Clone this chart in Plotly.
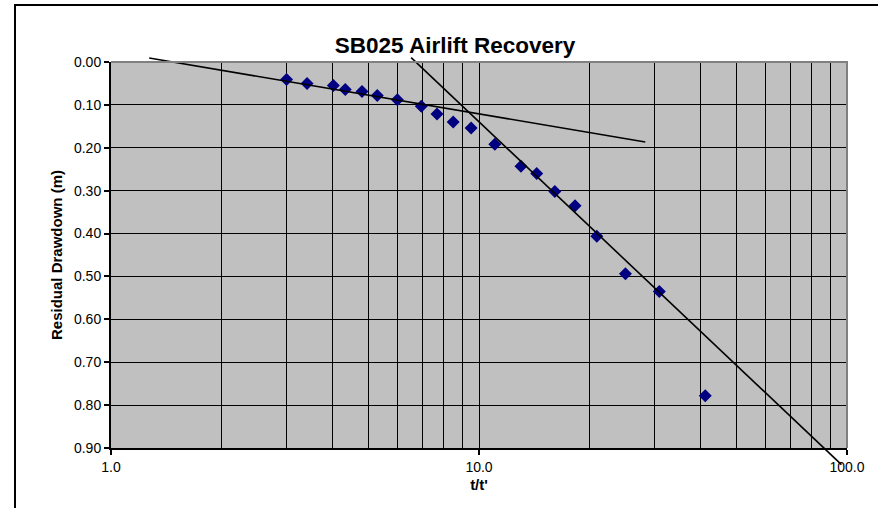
import plotly.graph_objects as go

# ---- data ----
t_ratio = [3.0, 3.41, 4.02, 4.33, 4.81, 5.29, 6.0, 6.97, 7.69, 8.51, 9.52,
           11.04, 13.0, 14.35, 16.07, 18.24, 20.9, 25.0, 30.9, 41.2]
drawdown = [0.041, 0.050, 0.055, 0.064, 0.069, 0.078, 0.088, 0.103, 0.121,
            0.140, 0.154, 0.192, 0.243, 0.260, 0.302, 0.335, 0.406, 0.494,
            0.535, 0.778]

early_fit_x = [1.27, 28.3]
early_fit_y = [-0.0093, 0.1865]
late_fit_x = [6.54, 96.6]
late_fit_y = [-0.0103, 0.9387]

x_major = [1, 10, 100]
x_major_text = ["1.0", "10.0", "100.0"]
x_minor = [2, 3, 4, 5, 6, 7, 8, 9, 20, 30, 40, 50, 60, 70, 80, 90]

title_text = "SB025 Airlift Recovery"
x_title = "t/t'"
y_title = "Residual Drawdown (m)"

# ---- geometry (pixels) ----
W, H = 878, 508
PL, PR, PT, PB = 111, 847, 62, 448
MT, MB = 40, 40
paper_h = H - MT - MB
ydom = [(H - MB - PB) / paper_h, (H - MB - PT) / paper_h]
u = 0.9 / (PB - PT)
y2_range = [0.9 + (H - MB - PB) * u, 0 - (PT - MT) * u]


def px_x(p):
    return (p - PL) / (PR - PL)


def px_y(p):
    return (H - MB - p) / paper_h


FONT = "Liberation Sans, Arial, sans-serif"

fig = go.Figure()
fig.add_trace(go.Scatter(
    x=t_ratio, y=drawdown, mode="markers",
    marker=dict(symbol="diamond", size=10, color="#000080",
                line=dict(width=0)),
    xaxis="x", yaxis="y", showlegend=False, cliponaxis=False))
fig.add_trace(go.Scatter(
    x=early_fit_x, y=early_fit_y, mode="lines",
    line=dict(color="black", width=1.6),
    xaxis="x2", yaxis="y2", showlegend=False))
fig.add_trace(go.Scatter(
    x=late_fit_x, y=late_fit_y, mode="lines",
    line=dict(color="black", width=1.6),
    xaxis="x2", yaxis="y2", showlegend=False))

fig.update_layout(
    width=W, height=H,
    margin=dict(l=PL, r=W - PR, t=MT, b=MB, pad=0),
    paper_bgcolor="white",
    plot_bgcolor="rgba(0,0,0,0)",
    font=dict(family=FONT, color="black", size=14),
    title=dict(text="<b>" + title_text + "</b>", x=455 / W, xref="container",
               xanchor="center", y=1 - 45 / H, yref="container",
               yanchor="middle", font=dict(size=22.5, family=FONT)),
    xaxis=dict(
        type="log", range=[0, 2], domain=[0, 1], anchor="y",
        tickvals=x_major, ticktext=x_major_text,
        ticks="outside", ticklen=5, tickwidth=1.5, tickcolor="black",
        showgrid=True, gridcolor="black", gridwidth=1,
        minor=dict(tickvals=x_minor, showgrid=True, gridcolor="black",
                   gridwidth=1, ticks=""),
        showline=True, linecolor="black", linewidth=2,
        zeroline=False,
        tickfont=dict(size=14, family=FONT),
        title=dict(text="<b>" + x_title + "</b>",
                   font=dict(size=15, family=FONT), standoff=6),
    ),
    yaxis=dict(
        range=[0.9, 0], domain=ydom, anchor="x",
        tickmode="linear", tick0=0, dtick=0.1, tickformat=".2f",
        ticks="outside", ticklen=5, tickwidth=1.5, tickcolor="black",
        showgrid=True, gridcolor="black", gridwidth=1.2,
        showline=True, linecolor="black", linewidth=2,
        zeroline=False,
        tickfont=dict(size=14, family=FONT),
        title=dict(text="<b>" + y_title + "</b>",
                   font=dict(size=15, family=FONT), standoff=8),
    ),
    xaxis2=dict(type="log", range=[0, 2], domain=[0, 1], anchor="y2",
                visible=False, showgrid=False),
    yaxis2=dict(range=y2_range, domain=[0, 1], anchor="x2",
                visible=False, showgrid=False),
    shapes=[
        # plot area fill
        dict(type="rect", xref="x domain", yref="y domain",
             x0=0, x1=1, y0=0, y1=1, fillcolor="#C0C0C0",
             line=dict(width=0), layer="below"),
        # plot area top/right border (gray)
        dict(type="path", xref="x domain", yref="y domain",
             path="M 0 1 L 1 1 L 1 0", line=dict(color="#808080", width=2),
             layer="above"),
        # chart area frame
        dict(type="rect", xref="paper", yref="paper",
             x0=px_x(15), x1=px_x(905), y0=px_y(530), y1=px_y(5),
             line=dict(color="black", width=2), fillcolor="rgba(0,0,0,0)",
             layer="above"),
    ],
)

fig.write_html("out.html")
